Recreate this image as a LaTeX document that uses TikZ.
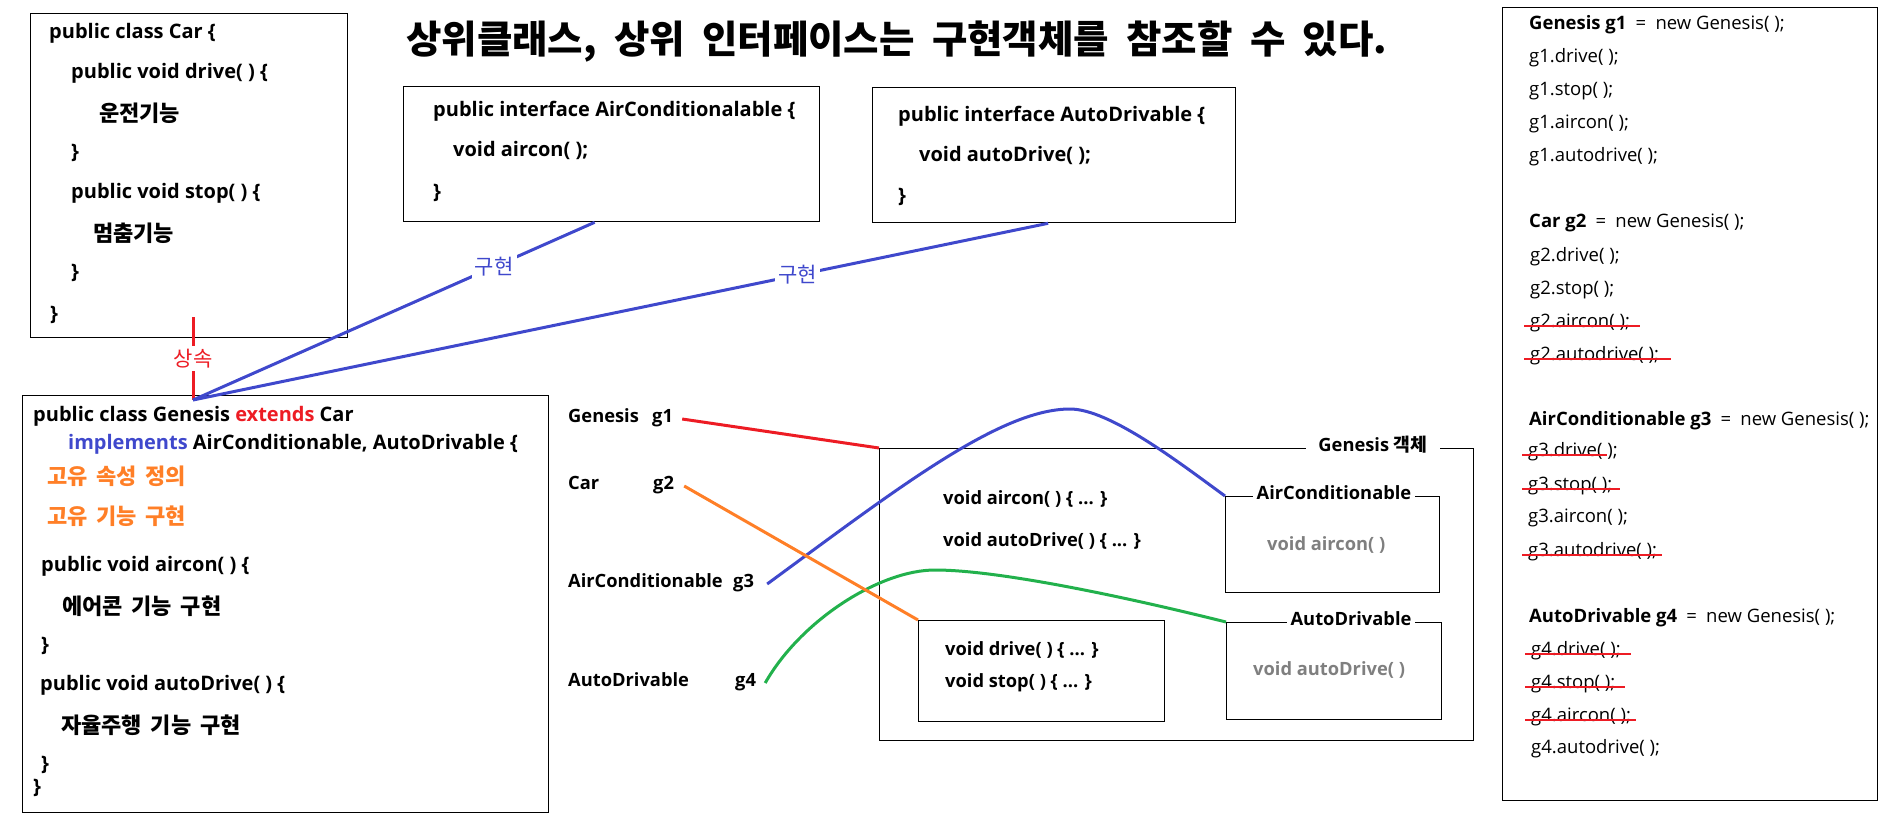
\documentclass[tikz,border=0pt]{standalone}
\usepackage{fontspec}
\usepackage{xcolor}
\setmainfont{Open Sans}
\newfontfamily\kr{Noto Sans CJK KR}
\definecolor{pred}{RGB}{237,28,36}
\definecolor{pblue}{RGB}{63,72,204}
\definecolor{porange}{RGB}{255,127,39}
\definecolor{pgreen}{RGB}{34,177,76}
\definecolor{pgray}{RGB}{127,127,127}
\newcommand{\titlefont}{\kr\fontsize{38.5}{44}\selectfont\bfseries\spaceskip=.45em\relax}
\newcommand{\krfont}{\kr\fontsize{22}{26}\selectfont\bfseries\spaceskip=.4em\relax}
\tikzset{
  txt/.style={anchor=west,inner sep=0pt,text height=1.5ex,text depth=.3ex},
  code/.style={txt,font=\fontsize{20}{24}\selectfont\bfseries},
  krcode/.style={txt,font=\krfont,yshift=-5pt},
  mid/.style={txt,font=\fontsize{18.3}{22}\selectfont\bfseries},
  call/.style={txt,font=\fontsize{18.5}{22}\selectfont,yshift=-1.5pt},
  frame/.style={draw,line width=1.3pt,anchor=north west,inner sep=0pt},
  tag/.style={fill=white,inner xsep=4pt,inner ysep=1pt,text height=1.5ex,text depth=.3ex,font=\fontsize{18.3}{22}\selectfont\bfseries},
  krtag/.style={fill=white,inner sep=3pt,font=\kr\fontsize{21}{25}\selectfont},
  link/.style={line width=3pt},
  strike/.style={pred,line width=2.6pt}
}
\newcommand{\crossout}[2]{\draw[strike] ([xshift=-6pt,yshift=-1.5pt]#1.west) -- ([xshift=#2,yshift=-1.5pt]#1.east);}

\begin{document}
\begin{tikzpicture}[x=1pt,y=-1pt]
\useasboundingbox (0,0) rectangle (1887,825);
\node[txt,font=\titlefont] (title) at (406,50) {상위클래스, 상위 인터페이스는 구현객체를 참조할 수 있다.};
% class Car
\node[frame,minimum width=317pt,minimum height=324pt] (carbox) at (30,13) {};
\node[code] (car1) at (49,35) {public class Car \{};
\node[code] (car2) at (71,75) {public void drive( ) \{};
\node[krcode] (car3) at (99,113) {운전기능};
\node[code] (car4) at (71,155) {\}};
\node[code] (car5) at (71,195) {public void stop( ) \{};
\node[krcode] (car6) at (93,233) {멈춤기능};
\node[code] (car7) at (71,275) {\}};
\node[code] (car8) at (50,317) {\}};
% interfaces
\node[frame,minimum width=416pt,minimum height=135pt] (aci) at (403,86) {};
\node[code] (aci1) at (433,113) {public interface AirConditionalable \{};
\node[code] (aci2) at (453,153) {void aircon( );};
\node[code] (aci3) at (433,195) {\}};
\node[frame,minimum width=363pt,minimum height=135pt] (adi) at (872,87) {};
\node[code] (adi1) at (898,118) {public interface AutoDrivable \{};
\node[code] (adi2) at (919,158) {void autoDrive( );};
\node[code] (adi3) at (898,199) {\}};
% class Genesis
\node[frame,minimum width=526pt,minimum height=417pt] (genbox) at (22,395) {};
\node[code] (gen1) at (33,418) {public class Genesis \textcolor{pred}{extends} Car};
\node[code] (gen2) at (68,446) {\textcolor{pblue}{implements} AirConditionable, AutoDrivable \{};
\node[krcode,text=porange] (gen3) at (47,476) {고유 속성 정의};
\node[krcode,text=porange] (gen4) at (47,516) {고유 기능 구현};
\node[code] (gen5) at (41,568) {public void aircon( ) \{};
\node[krcode] (gen6) at (62,606) {에어콘 기능 구현};
\node[code] (gen7) at (41,648) {\}};
\node[code] (gen8) at (40,687) {public void autoDrive( ) \{};
\node[krcode] (gen9) at (61,725) {자율주행 기능 구현};
\node[code] (gen10) at (41,767) {\}};
\node[code] (gen11) at (33,790) {\}};
% inherit / implement
\coordinate (inhtop) at (193,317);
\coordinate (join) at (193,400);
\draw[pred,link] (inhtop) -- node[krtag,text=pred] (inh) {상속} (join);
\draw[pblue,link] (join) -- node[krtag,text=pblue,pos=0.75] (impl1) {구현} ([xshift=-17pt]aci.south);
\draw[pblue,link] (join) -- node[krtag,text=pblue,pos=0.707] (impl2) {구현} ([xshift=-6pt]adi.south);
% references
\node[mid] (tg1) at (568,419) {Genesis};
\node[mid] (vg1) at (652,419) {g1};
\node[mid] (tg2) at (568,486) {Car};
\node[mid] (vg2) at (653,486) {g2};
\node[mid] (tg3) at (568,584) {AirConditionable};
\node[mid] (vg3) at (733,584) {g3};
\node[mid] (tg4) at (568,683) {AutoDrivable};
\node[mid] (vg4) at (735,683) {g4};
% Genesis object
\node[frame,minimum width=594pt,minimum height=292pt] (obj) at (879,448) {};
\node[tag,inner xsep=12pt] (objtag) at (1373,448) {Genesis {\kr 객체}};
\node[mid] (own1) at (943,501) {void aircon( ) \{ ... \}};
\node[mid] (own2) at (943,543) {void autoDrive( ) \{ ... \}};
\node[frame,minimum width=246pt,minimum height=101pt] (carpart) at (918,620) {};
\node[mid] (cp1) at (945,652) {void drive( ) \{ ... \}};
\node[mid] (cp2) at (945,684) {void stop( ) \{ ... \}};
\node[frame,minimum width=214pt,minimum height=96pt] (acpart) at (1225,496) {};
\node[tag] (actag) at (1334,496) {AirConditionable};
\node[mid,pgray] (ac1) at (1267,547) {void aircon( )};
\node[frame,minimum width=215pt,minimum height=97pt] (adpart) at (1226,622) {};
\node[tag] (adtag) at (1351,622) {AutoDrivable};
\node[mid,pgray] (ad1) at (1253,672) {void autoDrive( )};
\coordinate (acpeak) at (1070,409);
\coordinate (adpeak) at (935,570);
\draw[pred,link] ([xshift=9pt]vg1.east) -- (obj.north west);
\draw[pblue,link] ([xshift=13pt]vg3.east) .. controls (898,488) and (1000,409) .. (acpeak) .. controls (1110,409) and (1181,464) .. (acpart.north west);
\draw[pgreen,link] ([xshift=9pt]vg4.east) .. controls (801,620) and (880,570) .. (adpeak) .. controls (1000,570) and (1130,598) .. (adpart.north west);
\draw[porange,link] ([xshift=10pt]vg2.east) -- (carpart.north west);
% calls
\node[frame,minimum width=375pt,minimum height=793pt] (calls) at (1502,7) {};
\node[call] (s10) at (1529,25) {\textbf{Genesis g1}\enspace=\enspace new Genesis( );};
\node[call] (s11) at (1529,58) {g1.drive( );};
\node[call] (s12) at (1529,91) {g1.stop( );};
\node[call] (s13) at (1529,124) {g1.aircon( );};
\node[call] (s14) at (1529,157) {g1.autodrive( );};
\node[call] (s20) at (1529,223) {\textbf{Car g2}\enspace=\enspace new Genesis( );};
\node[call] (s21) at (1530,257) {g2.drive( );};
\node[call] (s22) at (1530,290) {g2.stop( );};
\node[call] (s23) at (1530,323) {g2.aircon( );};
\node[call] (s24) at (1530,356) {g2.autodrive( );};
\node[call] (s30) at (1529,421) {\textbf{AirConditionable g3}\enspace=\enspace new Genesis( );};
\node[call] (s31) at (1528,452) {g3.drive( );};
\node[call] (s32) at (1528,486) {g3.stop( );};
\node[call] (s33) at (1528,518) {g3.aircon( );};
\node[call] (s34) at (1528,552) {g3.autodrive( );};
\node[call] (s40) at (1529,618) {\textbf{AutoDrivable g4}\enspace=\enspace new Genesis( );};
\node[call] (s41) at (1531,651) {g4.drive( );};
\node[call] (s42) at (1531,684) {g4.stop( );};
\node[call] (s43) at (1531,717) {g4.aircon( );};
\node[call] (s44) at (1531,749) {g4.autodrive( );};
\crossout{s23}{10pt}
\crossout{s24}{12pt}
\crossout{s31}{-11pt}
\crossout{s32}{7pt}
\crossout{s34}{5pt}
\crossout{s41}{10pt}
\crossout{s42}{9pt}
\crossout{s43}{5pt}
\end{tikzpicture}
\end{document}
